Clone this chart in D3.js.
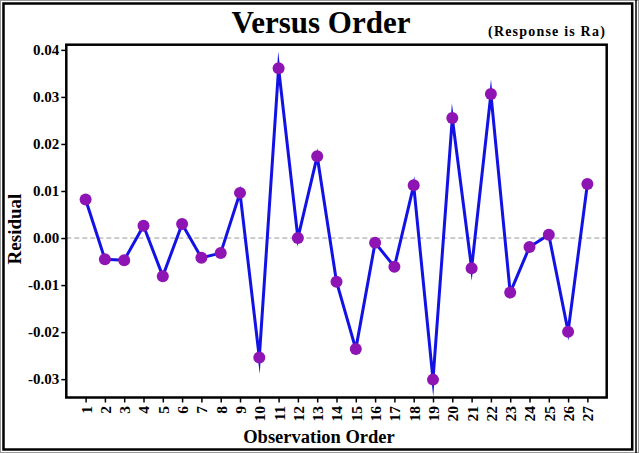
<!DOCTYPE html>
<html>
<head>
<meta charset="utf-8">
<script src="https://cdn.jsdelivr.net/npm/d3@7"></script>
<style>
    body { margin: 0; background: #fff; }
    svg text { font-family: "Liberation Serif", "Times New Roman", serif; font-weight: bold; fill: #000; }
</style>
</head>
<body>
<svg id="chart" width="639" height="453"></svg>
<script>
/**
 * Data.
 */
const observations = d3.range(1, 28);
const residuals = [
    0.0082, -0.0045, -0.0047, 0.0026, -0.0081, 0.0030, -0.0042, -0.0032, 0.0096,
    -0.0254, 0.0361, 0.0000, 0.0174, -0.0093, -0.0236, -0.0010, -0.0061, 0.0112,
    -0.0301, 0.0255, -0.0064, 0.0306, -0.0116, -0.0019, 0.0007, -0.0199, 0.0115
];
const yTicks = [-0.03, -0.02, -0.01, 0.00, 0.01, 0.02, 0.03, 0.04];
const title = 'Versus Order',
    subtitle = '(Response is Ra)',
    xTitle = 'Observation Order',
    yTitle = 'Residual';

/**
 * Visual configs.
 */
const visWidth = 639, visHeight = 453;
const margin = { top: 44.7, right: 32.3, bottom: 55.5, left: 66.3 };
const width = visWidth - margin.left - margin.right,
    height = visHeight - margin.top - margin.bottom;

const svg = d3.select('#chart');

// Outer frame
svg.append('rect')
    .attr('x', 0.5).attr('y', 0.5).attr('width', visWidth - 1).attr('height', visHeight - 1)
    .attr('fill', 'none').attr('stroke', '#9a9a9a').attr('stroke-width', 1);
svg.append('rect')
    .attr('x', 3.5).attr('y', 3.5).attr('width', 628.7).attr('height', 446)
    .attr('fill', 'none').attr('stroke', '#000').attr('stroke-width', 2.5);
svg.append('line')
    .attr('x1', 636).attr('x2', 636).attr('y1', 0).attr('y2', visHeight)
    .attr('stroke', '#000').attr('stroke-width', 1.5);

/**
 * D3.
 */
const xScale = d3.scaleLinear().domain([0, 28]).range([0, width]),
    yScale = d3.scaleLinear().domain([-0.0339, 0.0411]).range([height, 0]),
    xAxis = d3.axisBottom(xScale).tickValues(observations).tickSize(5).tickSizeOuter(0).tickFormat(d3.format('d')),
    yAxis = d3.axisLeft(yScale).tickValues(yTicks).tickSize(5).tickSizeOuter(0).tickFormat(d => d.toFixed(2)),
    line = d3.line().x((d, i) => xScale(observations[i])).y(d => yScale(d));

const visContainer = svg.append('g')
    .attr('transform', 'translate(' + margin.left + ',' + margin.top + ')');

// Zero reference line
visContainer.append('line')
    .attr('x1', 0).attr('x2', width)
    .attr('y1', yScale(0)).attr('y2', yScale(0))
    .attr('stroke', '#9a9a9a').attr('stroke-width', 1)
    .attr('stroke-dasharray', '5,3');

// Axes
const xAxisContainer = visContainer.append('g')
    .attr('transform', 'translate(0,' + height + ')')
    .call(xAxis);
xAxisContainer.select('.domain').remove();
xAxisContainer.selectAll('.tick line').attr('stroke-width', 1.5);
xAxisContainer.selectAll('.tick text')
    .attr('font-size', 15.5)
    .attr('text-anchor', 'end')
    .attr('transform', 'rotate(-90)')
    .attr('x', -8.5).attr('y', 0).attr('dy', '0.35em');

const yAxisContainer = visContainer.append('g').call(yAxis);
yAxisContainer.select('.domain').remove();
yAxisContainer.selectAll('.tick line').attr('stroke-width', 1.5);
yAxisContainer.selectAll('.tick text').attr('font-size', 15).attr('x', -7);

// Line
visContainer.append('path')
    .datum(residuals)
    .attr('d', line)
    .attr('fill', 'none')
    .attr('stroke', '#1212E6')
    .attr('stroke-width', 3)
    .attr('stroke-linejoin', 'miter')
    .attr('stroke-miterlimit', 40);

// Points
visContainer.selectAll('circle').data(residuals)
    .enter().append('circle')
    .attr('cx', (d, i) => xScale(observations[i]))
    .attr('cy', d => yScale(d))
    .attr('r', 6)
    .attr('fill', '#8E14B4');

// Plot frame
visContainer.append('rect')
    .attr('width', width).attr('height', height)
    .attr('fill', 'none').attr('stroke', '#000').attr('stroke-width', 2.5);

// Titles
svg.append('text')
    .attr('x', 321).attr('y', 33)
    .attr('text-anchor', 'middle')
    .attr('font-size', 31)
    .text(title);
svg.append('text')
    .attr('x', 606).attr('y', 36)
    .attr('text-anchor', 'end')
    .attr('font-size', 14)
    .attr('letter-spacing', 1.2)
    .text(subtitle);
svg.append('text')
    .attr('x', 319).attr('y', 443)
    .attr('text-anchor', 'middle')
    .attr('font-size', 18.5)
    .text(xTitle);
svg.append('text')
    .attr('transform', 'translate(21,229) rotate(-90)')
    .attr('text-anchor', 'middle')
    .attr('font-size', 19)
    .text(yTitle);
</script>
</body>
</html>
